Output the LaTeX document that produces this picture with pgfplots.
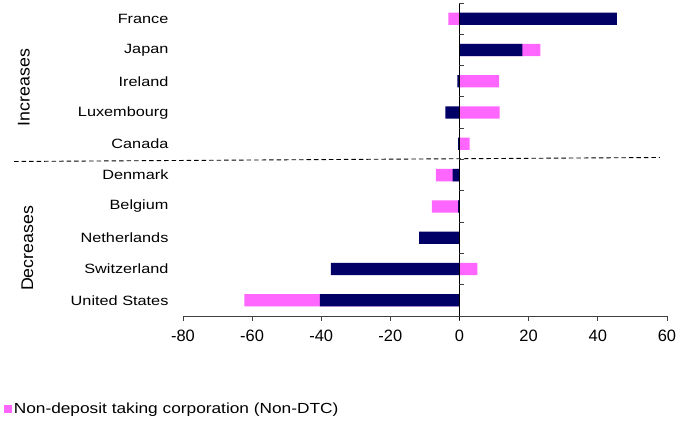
\documentclass[border=0pt]{standalone}
\usepackage{fontspec}
\setmainfont{Liberation Sans}
\newfontfamily\widefont[FakeStretch=1.21]{Liberation Sans}
\newfontfamily\legfont[FakeStretch=1.18]{Liberation Sans}
\newfontfamily\grpfont[FakeStretch=1.05]{Liberation Sans}
\usepackage{pgfplots}
\pgfplotsset{compat=1.18}
\definecolor{dtc}{RGB}{0,0,102}
\definecolor{ndtc}{RGB}{255,102,255}
\definecolor{axgray}{RGB}{64,64,64}
\begin{document}
\begin{tikzpicture}
\begin{axis}[
  width=484bp, height=313bp, scale only axis,
  xmin=-80, xmax=60, ymin=-0.5, ymax=9.5,
  xbar, bar width=12.3bp, bar shift=0pt,
  axis x line*=bottom, axis y line*=left,
  y axis line style={draw=none},
  x axis line style={axgray, line width=0.8pt, -},
  xtick={-80,-60,-40,-20,0,20,40,60},
  xticklabels={-80,-60,-40,-20,0,20,40,60},
  xtick align=outside, major tick length=5bp,
  xtick style={axgray, line width=0.8pt},
  ytick={0,...,9},
  yticklabels={United States,Switzerland,Netherlands,Belgium,Denmark,Canada,Luxembourg,Ireland,Japan,France},
  ytick style={draw=none},
  yticklabel style={font=\widefont\fontsize{13.5}{16}\selectfont, xshift=-6bp},
  xticklabel style={font=\fontsize{16.5}{19}\selectfont, yshift=-6bp},
  clip=false,
  legend style={at={(-0.3705,-0.2985)}, anchor=west, draw=none, fill=none, inner sep=0pt,
    font=\legfont\fontsize{14.7}{17}\selectfont},
  legend image code/.code={\fill[ndtc] (0bp,-4bp) rectangle (8bp,4bp);},
]
% Non-DTC bars: outer end of the pink segment (stacked beyond DTC when same sign)
\addplot[fill=ndtc, draw=none] coordinates {
  (-62.2,0) (5.2,1) (0,2) (-8.0,3) (-6.8,4) (2.9,5) (11.6,6) (11.5,7) (23.4,8) (-3.2,9)};
\addlegendentry{Non-deposit taking corporation (Non-DTC)}
% DTC bars
\addplot[fill=dtc, draw=none, forget plot] coordinates {
  (-40.4,0) (-37.2,1) (-11.7,2) (-0.4,3) (-2.0,4) (-0.4,5) (-4.1,6) (-0.6,7) (18.2,8) (45.5,9)};
% zero line and its ticks
\draw[black, line width=0.8pt] (axis cs:0,-0.5) -- ([yshift=-4bp]axis cs:0,-0.5);
\draw[black, line width=0.8pt] (axis cs:0,-0.5) -- (axis cs:0,9.5);
\draw[axgray, line width=0.8pt]
  (axis cs:0,-0.5) -- ([xshift=5bp]axis cs:0,-0.5)
  (axis cs:0,0.5) -- ([xshift=5bp]axis cs:0,0.5)
  (axis cs:0,1.5) -- ([xshift=5bp]axis cs:0,1.5)
  (axis cs:0,2.5) -- ([xshift=5bp]axis cs:0,2.5)
  (axis cs:0,3.5) -- ([xshift=5bp]axis cs:0,3.5)
  (axis cs:0,4.5) -- ([xshift=5bp]axis cs:0,4.5)
  (axis cs:0,5.5) -- ([xshift=5bp]axis cs:0,5.5)
  (axis cs:0,6.5) -- ([xshift=5bp]axis cs:0,6.5)
  (axis cs:0,7.5) -- ([xshift=5bp]axis cs:0,7.5)
  (axis cs:0,8.5) -- ([xshift=5bp]axis cs:0,8.5)
  (axis cs:0,9.5) -- ([xshift=5bp]axis cs:0,9.5);
% separator
\draw[black, line width=0.9pt, dash pattern=on 4.5bp off 3bp] (rel axis cs:-0.349,0.4936) -- (rel axis cs:0.9855,0.5064);
% group labels
\node[rotate=90, inner sep=0pt, font=\grpfont\fontsize{17}{20}\selectfont] at (rel axis cs:-0.3285,0.730) {Increases};
\node[rotate=90, inner sep=0pt, font=\grpfont\fontsize{17}{20}\selectfont] at (rel axis cs:-0.3213,0.2157) {Decreases};
% page extent
\path (rel axis cs:-0.378,-0.335) rectangle (rel axis cs:1.056,1.0096);
\end{axis}
\end{tikzpicture}
\end{document}
